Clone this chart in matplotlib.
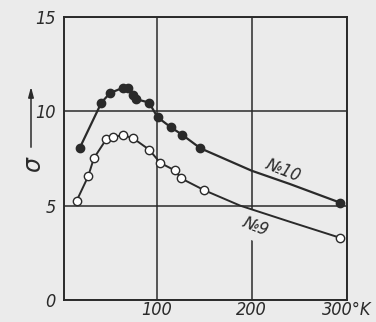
import matplotlib
matplotlib.use('Agg')
import matplotlib.pyplot as plt

# образец №10 (чёрные точки)
t10 = [19, 42, 51, 65, 70, 75, 78, 92, 101, 115, 127, 146, 293]
s10 = [8.04, 10.46, 10.96, 11.25, 11.25, 10.85, 10.64, 10.46, 9.68, 9.15, 8.75, 8.04, 5.16]
# образец №9 (светлые точки)
t9 = [16, 28, 34, 47, 54, 65, 75, 92, 104, 119, 126, 150, 293]
s9 = [5.27, 6.55, 7.51, 8.51, 8.65, 8.72, 8.58, 7.97, 7.26, 6.87, 6.44, 5.82, 3.30]
t10_curve = [200, 240]
s10_curve = [6.85, 6.15]
t9_curve = [188, 240]
s9_curve = [5.0, 4.15]

x_ticks = [100, 200, 300]
x_labels = ['100', '200', '300°K']
y_ticks = [0, 5, 10, 15]

bg = '#ebebeb'
ink = '#2a2a2a'
fnt = ['Liberation Sans Narrow', 'DejaVu Sans']

fig = plt.figure(figsize=(3.76, 3.22), dpi=100, facecolor=bg)
ax = fig.add_axes([0.170, 0.068, 0.752, 0.880], facecolor=bg)


def merge(t, s, tc, sc):
    pts = sorted(zip(t + tc, s + sc))
    return [p[0] for p in pts], [p[1] for p in pts]


lx10, ly10 = merge(t10, s10, t10_curve, s10_curve)
lx9, ly9 = merge(t9, s9, t9_curve, s9_curve)

ax.plot(lx10, ly10, color=ink, lw=1.6, zorder=3)
ax.plot(lx9, ly9, color=ink, lw=1.4, zorder=3)
ax.plot(t10, s10, 'o', ms=6.0, mfc=ink, mec=ink, zorder=4)
ax.plot(t9, s9, 'o', ms=6.0, mfc='white', mec=ink, mew=1.0, zorder=4)

ax.set_xlim(2.5, 300)
ax.set_ylim(0, 15)
ax.set_xticks(x_ticks)
ax.set_xticklabels(x_labels)
ax.set_yticks(y_ticks)
ax.tick_params(length=0, labelsize=13, colors=ink)
ax.tick_params(axis='x', pad=1)
ax.tick_params(axis='y', pad=6)
for lab in ax.get_xticklabels() + ax.get_yticklabels():
    lab.set_family(fnt)
    lab.set_style('italic')
    lab.set_stretch('condensed')
ax.grid(True, color=ink, lw=1.1)
for sp in ax.spines.values():
    sp.set_color(ink)
    sp.set_linewidth(1.4)

ax.text(233, 6.9, '№10', rotation=-22, ha='center', va='center',
        fontsize=12.5, family=fnt, style='italic', stretch='condensed', color=ink, zorder=5)
ax.text(204, 3.9, '№9', rotation=-22, ha='center', va='center',
        fontsize=12.5, family=fnt, style='italic', stretch='condensed', color=ink, zorder=2,
        bbox=dict(boxstyle='square,pad=0.3', fc=bg, ec='none'))

# обозначение оси σ со стрелкой
fig.text(33 / 376, 1 - 165 / 322, 'σ', rotation=90, ha='center', va='center',
         fontsize=17, family=fnt, style='italic', color=ink)
fig.patches.append(matplotlib.patches.FancyArrowPatch(
    (31 / 376, 1 - 150 / 322), (31 / 376, 1 - 84 / 322),
    transform=fig.transFigure, arrowstyle='-|>,head_length=6,head_width=1.6',
    color=ink, lw=1.1))

fig.savefig('out.png', dpi=100, facecolor=bg)
